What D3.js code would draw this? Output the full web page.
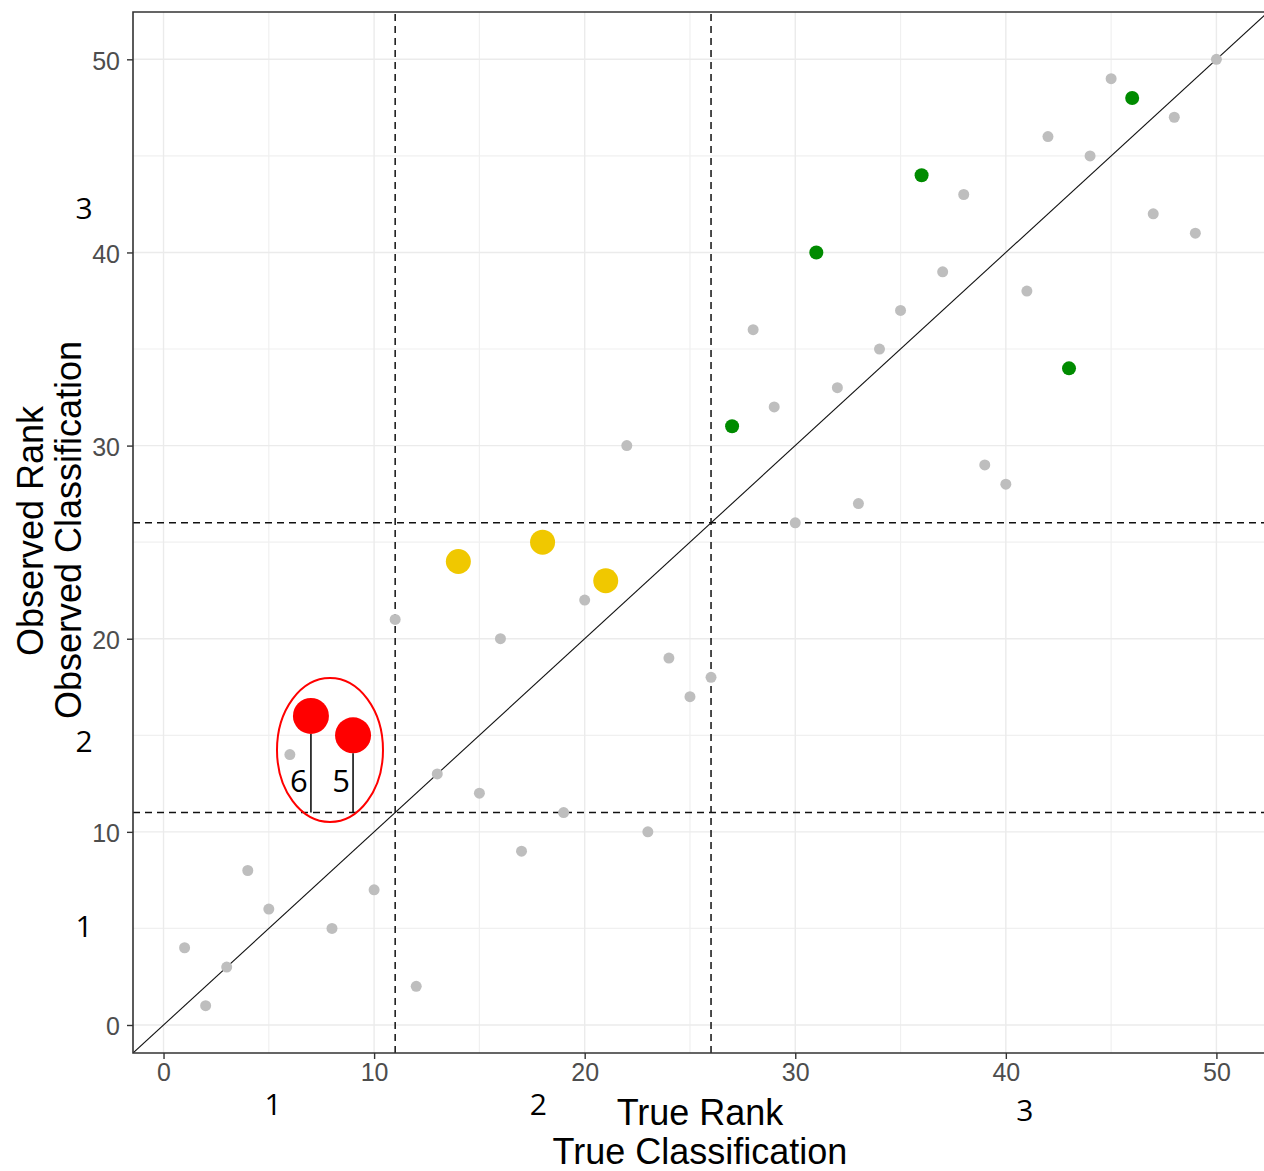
<!DOCTYPE html>
<html>
<head>
<meta charset="utf-8">
<script src="https://cdn.jsdelivr.net/npm/d3@7"></script>
<style>
  body { margin: 0; background: #fff; }
  text { font-family: "Liberation Sans", Arial, sans-serif; }
  .note { font-family: "Open Sans", "Noto Sans", sans-serif; }
</style>
</head>
<body>
<div id="chart"></div>
<script>
// true rank of each item and the rank that was observed for it
var trueRank = [1, 2, 3, 4, 5, 6, 7, 8, 9, 10, 11, 12, 13, 14, 15, 16, 17, 18, 19, 20,
                21, 22, 23, 24, 25, 26, 27, 28, 29, 30, 31, 32, 33, 34, 35, 36, 37, 38, 39, 40,
                41, 42, 43, 44, 45, 46, 47, 48, 49, 50];
var observedRank = [4, 1, 3, 8, 6, 14, 16, 5, 15, 7, 21, 2, 13, 24, 12, 20, 9, 25, 11, 22,
                    23, 30, 10, 19, 17, 18, 31, 36, 32, 26, 40, 33, 27, 35, 37, 44, 39, 43, 29, 28,
                    38, 46, 34, 45, 49, 48, 42, 47, 41, 50];

// highlighted items (by true rank)
var redItems = [7, 9];
var yellowItems = [14, 18, 21];
var greenItems = [27, 31, 36, 43, 46];

// class cut points on both axes
var cutPoints = [11, 26];

var majorTicks = [0, 10, 20, 30, 40, 50];
var minorTicks = [5, 15, 25, 35, 45];

// labels under the red points (rank gap)
var redGaps = ["6", "5"];

var w = 1264;
var h = 1171;

var svg = d3.select("#chart")
    .append("svg")
    .attr("width", w)
    .attr("height", h);

svg.append("rect").attr("width", w).attr("height", h).attr("fill", "#fff");

var x = d3.scaleLinear().domain([-1.45, 52.45]).range([133, 1268]);
var y = d3.scaleLinear().domain([-1.45, 52.45]).range([1053, 12]);

var dataset = trueRank.map(function (t, i) {
    var cls = "grey";
    if (redItems.indexOf(t) >= 0) cls = "red";
    else if (yellowItems.indexOf(t) >= 0) cls = "yellow";
    else if (greenItems.indexOf(t) >= 0) cls = "green";
    return { t: t, o: observedRank[i], cls: cls };
});

var colour = { grey: "#bebebe", red: "#ff0000", yellow: "#f0c800", green: "#008b00" };
var radius = { grey: 5.5, red: 18, yellow: 12.5, green: 7 };

svg.append("clipPath").attr("id", "panel")
    .append("rect")
    .attr("x", x.range()[0]).attr("y", y.range()[1])
    .attr("width", x.range()[1] - x.range()[0])
    .attr("height", y.range()[0] - y.range()[1]);

var panel = svg.append("g").attr("clip-path", "url(#panel)");

// grid
panel.selectAll("line.vminor").data(minorTicks).enter().append("line")
    .attr("x1", d => x(d)).attr("x2", d => x(d))
    .attr("y1", y.range()[0]).attr("y2", y.range()[1])
    .attr("stroke", "#f0f0f0").attr("stroke-width", 1.2);
panel.selectAll("line.hminor").data(minorTicks).enter().append("line")
    .attr("y1", d => y(d)).attr("y2", d => y(d))
    .attr("x1", x.range()[0]).attr("x2", x.range()[1])
    .attr("stroke", "#f0f0f0").attr("stroke-width", 1.2);
panel.selectAll("line.vmajor").data(majorTicks).enter().append("line")
    .attr("x1", d => x(d)).attr("x2", d => x(d))
    .attr("y1", y.range()[0]).attr("y2", y.range()[1])
    .attr("stroke", "#ebebeb").attr("stroke-width", 1.4);
panel.selectAll("line.hmajor").data(majorTicks).enter().append("line")
    .attr("y1", d => y(d)).attr("y2", d => y(d))
    .attr("x1", x.range()[0]).attr("x2", x.range()[1])
    .attr("stroke", "#ebebeb").attr("stroke-width", 1.4);

// cut lines
panel.selectAll("line.vcut").data(cutPoints).enter().append("line")
    .attr("x1", d => x(d)).attr("x2", d => x(d))
    .attr("y1", y.range()[0]).attr("y2", y.range()[1])
    .attr("stroke", "#111").attr("stroke-width", 1.5).attr("stroke-dasharray", "7,5");
panel.selectAll("line.hcut").data(cutPoints).enter().append("line")
    .attr("y1", d => y(d)).attr("y2", d => y(d))
    .attr("x1", x.range()[0]).attr("x2", x.range()[1])
    .attr("stroke", "#111").attr("stroke-width", 1.5).attr("stroke-dasharray", "7,5");

// identity line
panel.append("line")
    .attr("x1", x(-1.45)).attr("y1", y(-1.45))
    .attr("x2", x(52.45)).attr("y2", y(52.45))
    .attr("stroke", "#111").attr("stroke-width", 1.1);

// points
var order = ["grey", "green", "yellow", "red"];
panel.selectAll("circle")
    .data(dataset.slice().sort((a, b) => order.indexOf(a.cls) - order.indexOf(b.cls)))
    .enter()
    .append("circle")
    .attr("cx", d => x(d.t))
    .attr("cy", d => y(d.o))
    .attr("r", d => radius[d.cls])
    .attr("fill", d => colour[d.cls]);

// axes
var xAxis = svg.append("g")
    .attr("transform", "translate(0," + y.range()[0] + ")")
    .call(d3.axisBottom(x).tickValues(majorTicks).tickSize(6).tickSizeOuter(0));
var yAxis = svg.append("g")
    .attr("transform", "translate(" + x.range()[0] + ",0)")
    .call(d3.axisLeft(y).tickValues(majorTicks).tickSize(6).tickSizeOuter(0));

[xAxis, yAxis].forEach(function (g) {
    g.select(".domain").remove();
    g.selectAll(".tick line").attr("stroke", "#333").attr("stroke-width", 1.4);
    g.selectAll(".tick text")
        .attr("fill", "#4d4d4d")
        .style("font-size", "25px")
        .style("font-family", "'Liberation Sans', Arial, sans-serif");
});
xAxis.selectAll(".tick text").attr("y", 10);
yAxis.selectAll(".tick text").attr("x", -13).attr("dy", "0.4em");

// panel border (left, bottom, top)
svg.append("path")
    .attr("d", "M" + x.range()[1] + "," + y.range()[1] +
               "H" + x.range()[0] + "V" + y.range()[0] + "H" + x.range()[1])
    .attr("fill", "none").attr("stroke", "#333").attr("stroke-width", 1.6);

// axis titles
svg.append("text")
    .attr("x", 700).attr("y", 1125)
    .attr("text-anchor", "middle")
    .style("font-size", "36px")
    .attr("fill", "#000")
    .text("True Rank");
svg.append("text")
    .attr("x", 700).attr("y", 1164)
    .attr("text-anchor", "middle")
    .style("font-size", "36px")
    .attr("fill", "#000")
    .text("True Classification");
svg.append("text")
    .attr("transform", "translate(43,531) rotate(-90)")
    .attr("text-anchor", "middle")
    .style("font-size", "36px")
    .attr("fill", "#000")
    .text("Observed Rank");
svg.append("text")
    .attr("transform", "translate(81,530) rotate(-90)")
    .attr("text-anchor", "middle")
    .style("font-size", "36px")
    .attr("fill", "#000")
    .text("Observed Classification");

// class numbers next to the axes
var classNames = ["1", "2", "3"];
var yClassAt = [5.1, 14.7, 42.3];
var xClassAt = [5.2, 17.8, 40.9];
svg.selectAll("text.yclass").data(classNames).enter().append("text")
    .attr("class", "note")
    .attr("x", 84).attr("y", (d, i) => y(yClassAt[i]))
    .attr("dy", "0.36em")
    .attr("text-anchor", "middle")
    .style("font-size", "30px")
    .text(d => d);
svg.selectAll("text.xclass").data(classNames).enter().append("text")
    .attr("class", "note")
    .attr("x", (d, i) => x(xClassAt[i]))
    .attr("y", (d, i) => i === 2 ? 1121 : 1115)
    .attr("text-anchor", "middle")
    .style("font-size", "30px")
    .text(d => d);

// annotation of the red points
var reds = dataset.filter(d => d.cls === "red");
svg.selectAll("line.gap").data(reds).enter().append("line")
    .attr("x1", d => x(d.t)).attr("x2", d => x(d.t))
    .attr("y1", d => y(d.o) + radius.red).attr("y2", y(cutPoints[0]))
    .attr("stroke", "#000").attr("stroke-width", 1.5);
svg.selectAll("text.gap").data(reds).enter().append("text")
    .attr("class", "note")
    .attr("x", d => x(d.t) - 12)
    .attr("y", 792)
    .attr("text-anchor", "middle")
    .style("font-size", "31px")
    .text((d, i) => redGaps[i]);
svg.append("ellipse")
    .attr("cx", (x(redItems[0]) + x(redItems[1])) / 2 - 2)
    .attr("cy", 750)
    .attr("rx", 53).attr("ry", 72)
    .attr("fill", "none").attr("stroke", "#ff0000").attr("stroke-width", 2);
</script>
</body>
</html>
